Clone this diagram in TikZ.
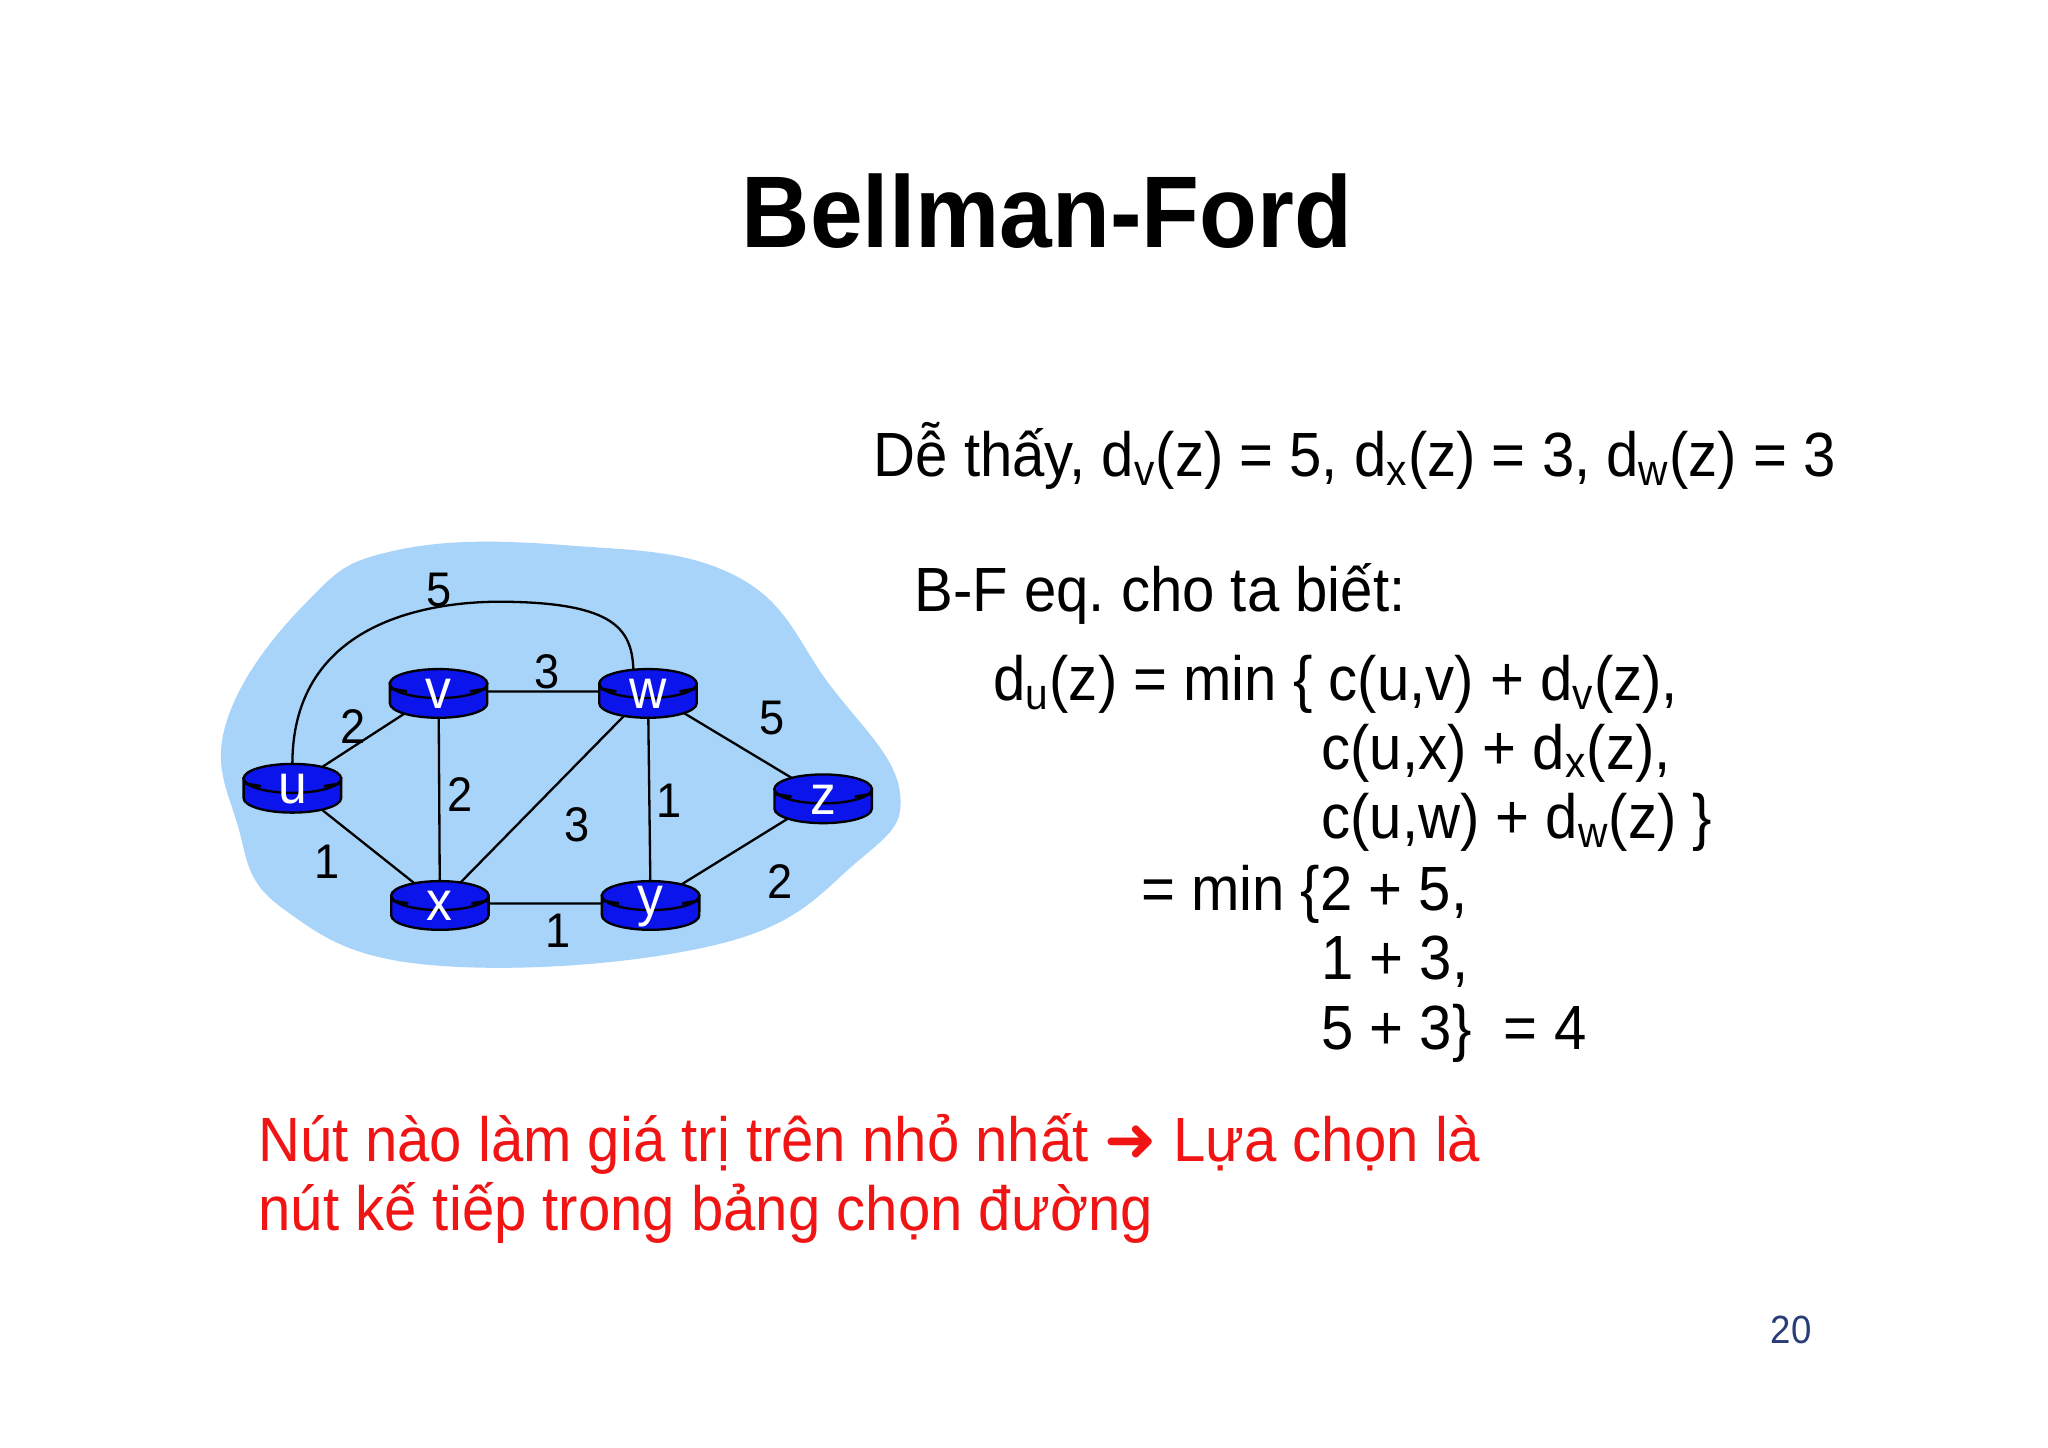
\documentclass[tikz,border=0pt]{standalone}
\usepackage{fontspec}
\setmainfont{Liberation Sans}[FakeStretch=0.93]
\newfontfamily\symf{DejaVu Sans}
\definecolor{blob}{RGB}{168,212,250}
\definecolor{rb}{RGB}{10,20,235}
\definecolor{redt}{RGB}{240,20,20}
\definecolor{pnum}{RGB}{40,60,120}
\newcommand\rtr[3]{%
  \fill[rb,draw=black,line width=1pt] (#2-37,#3-6) -- (#2-37,#3+9) arc[start angle=180,end angle=360,x radius=.74cm,y radius=.22cm] -- (#2+37,#3-6) -- cycle;
  \filldraw[fill=rb,draw=black,line width=1pt] (#2,#3-6) ellipse [x radius=.74cm,y radius=.22cm];
  \draw[line width=1.2pt] (#2-36,#3-2)--(#2-24,#3) (#2+24,#3)--(#2+36,#3-2);
  \node[text=white,font=\fontsize{24}{26}\selectfont] at (#2,#3+2) {#1};}
\begin{document}
\frenchspacing
\begin{tikzpicture}[x=0.02cm,y=-0.02cm,
  edge/.style={line width=1pt},
  el/.style={font=\fontsize{21}{24}\selectfont},
  body/.style={font=\fontsize{27}{32}\selectfont,anchor=base west,inner sep=0}]
\useasboundingbox[fill=white] (0,0) rectangle (1555,1099);
\node[font=\fontsize{44}{50}\bfseries\selectfont,anchor=base,inner sep=0] (title) at (795,188) {Bellman-Ford};
% blob
\fill[blob] plot[smooth cycle,tension=0.7] coordinates {(172,548) (232,458) (300,418) (430,414) (560,438) (630,520) (683,600) (650,655) (545,717) (330,733) (215,690) (180,625)};
\coordinate (u) at (222,597);
\coordinate (v) at (333,525);
\coordinate (w) at (492,525);
\coordinate (x) at (334,686);
\coordinate (y) at (494,686);
\coordinate (z) at (625,605);
\draw[edge] (u)--(v) (u)--(x) (v)--(w) (v)--(x) (w)--(x) (w)--(y) (w)--(z) (x)--(y) (y)--(z);
\draw[edge] (222,580) .. controls (222,470) and (330,455) .. (390,457) .. controls (470,459) and (480,480) .. (481,510);
\rtr{u}{222}{597}
\rtr{v}{333}{525}
\rtr{w}{492}{525}
\rtr{x}{334}{686}
\rtr{y}{494}{686}
\rtr{z}{625}{605}
\node[el] (l1) at (333,448) {5};
\node[el] (l2) at (415,510) {3};
\node[el] (l3) at (268,552) {2};
\node[el] (l4) at (586,545) {5};
\node[el] (l5) at (349,603) {2};
\node[el] (l6) at (438,626) {3};
\node[el] (l7) at (508,608) {1};
\node[el] (l8) at (248,654) {1};
\node[el] (l9) at (592,669) {2};
\node[el] (l10) at (424,707) {1};
% text
\node[body] (t1) at (663,362) {Dễ thấy, d\textsubscript{v}(z) = 5, d\textsubscript{x}(z) = 3, d\textsubscript{w}(z) = 3};
\node[body] (t2) at (694,464) {B-F eq. cho ta biết:};
\node[body] (t3) at (754,532) {d\textsubscript{u}(z) = min \{ c(u,v) + d\textsubscript{v}(z),};
\node[body] (t4) at (1003,584) {c(u,x) + d\textsubscript{x}(z),};
\node[body] (t5) at (1003,637) {c(u,w) + d\textsubscript{w}(z) \}};
\node[body] (t6) at (866,691) {= min \{2 + 5,};
\node[body] (t7) at (1003,744) {1 + 3,};
\node[body] (t8) at (1003,797) {5 + 3\}\ \ = 4};
\node[body,text=redt] (r1) at (196,882) {Nút nào làm giá trị trên nhỏ nhất {\symf ➜} Lựa chọn là};
\node[body,text=redt] (r2) at (196,934) {nút kế tiếp trong bảng chọn đường};
\node[font=\fontsize{17}{20}\selectfont,text=pnum,anchor=base,inner sep=0] (pn) at (1360,1020) {20};
\end{tikzpicture}
\end{document}
